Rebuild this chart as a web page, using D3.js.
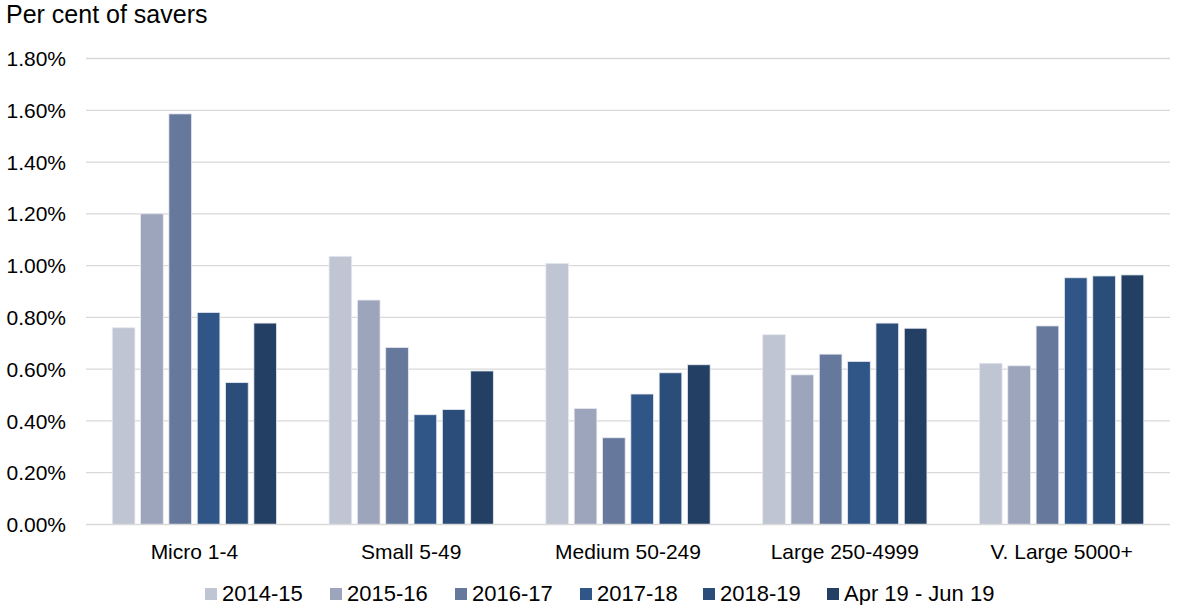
<!DOCTYPE html>
<html><head><meta charset="utf-8">
<script src="https://cdn.jsdelivr.net/npm/d3@7/dist/d3.min.js"></script>
<style>body{margin:0;background:#fff;font-family:"Liberation Sans",Arial,sans-serif}</style>
</head><body><svg id="c" width="1181" height="605"></svg>
<script>
const categories = ["Micro 1-4","Small 5-49","Medium 50-249","Large 250-4999","V. Large 5000+"];
const seriesNames = ["2014-15","2015-16","2016-17","2017-18","2018-19","Apr 19 - Jun 19"];
const s2014 = [0.760,1.036,1.009,0.733,0.623];
const s2015 = [1.200,0.867,0.448,0.578,0.613];
const s2016 = [1.586,0.684,0.335,0.658,0.767];
const s2017 = [0.819,0.424,0.504,0.630,0.953];
const s2018 = [0.548,0.444,0.586,0.778,0.960];
const sApr19 = [0.778,0.593,0.617,0.758,0.964];
const yTicks = [0,0.2,0.4,0.6,0.8,1.0,1.2,1.4,1.6,1.8];
const colors = ["#bfc5d3","#9ca5bb","#66789c","#305688","#2b4d7a","#233f63"];

(function(){
const series = [s2014,s2015,s2016,s2017,s2018,sApr19];
const svg = d3.select("#c");
const mL = 86, mR = 1170, mT = 58.5, mB = 524.5;
const y = d3.scaleLinear().domain([0,1.8]).range([mB, mT]);
const x0 = d3.scaleBand().domain(categories).range([mL,mR]).paddingInner(0.19).paddingOuter(0.095);
const x1 = d3.scaleBand().domain(seriesNames).range([0,x0.bandwidth()]).padding(0.2);

svg.append("g").selectAll("line").data(yTicks.slice(1)).join("line")
  .attr("x1",mL).attr("x2",mR).attr("y1",d=>y(d)).attr("y2",d=>y(d))
  .attr("stroke","#d9d9d9").attr("stroke-width",1.3);

svg.append("g").selectAll("text").data(yTicks).join("text")
  .attr("x",66).attr("y",d=>y(d)).attr("dy","0.36em").attr("text-anchor","end")
  .attr("font-size",21).attr("fill","#000").text(d=>d.toFixed(2)+"%");

const g = svg.append("g");
categories.forEach((c,ci)=>{
  g.append("g").attr("transform",`translate(${x0(c)},0)`)
   .selectAll("rect").data(seriesNames.map((s,si)=>({s,si,v:series[si][ci]}))).join("rect")
   .attr("x",d=>x1(d.s)).attr("width",x1.bandwidth())
   .attr("y",d=>y(d.v)).attr("height",d=>y(0)-y(d.v))
   .attr("fill",d=>colors[d.si]).attr("stroke","#e6e9ef").attr("stroke-width",0.8);
});

svg.append("line").attr("x1",mL).attr("x2",mR).attr("y1",y(0)).attr("y2",y(0))
  .attr("stroke","#d9d9d9").attr("stroke-width",1.3);

svg.append("g").selectAll("text").data(categories).join("text")
  .attr("x",d=>x0(d)+x0.bandwidth()/2).attr("y",559).attr("text-anchor","middle")
  .attr("font-size",21).attr("fill","#000").text(d=>d);

svg.append("text").attr("x",6).attr("y",23).attr("font-size",25).attr("fill","#000").text("Per cent of savers");

const legX = [205,330,455,580,703,827];
const leg = svg.append("g");
seriesNames.forEach((s,i)=>{
  leg.append("rect").attr("x",legX[i]).attr("y",588).attr("width",12).attr("height",12).attr("fill",colors[i]);
  leg.append("text").attr("x",legX[i]+17).attr("y",601).attr("font-size",22).attr("fill","#000").text(s);
});
})();
</script></body></html>
